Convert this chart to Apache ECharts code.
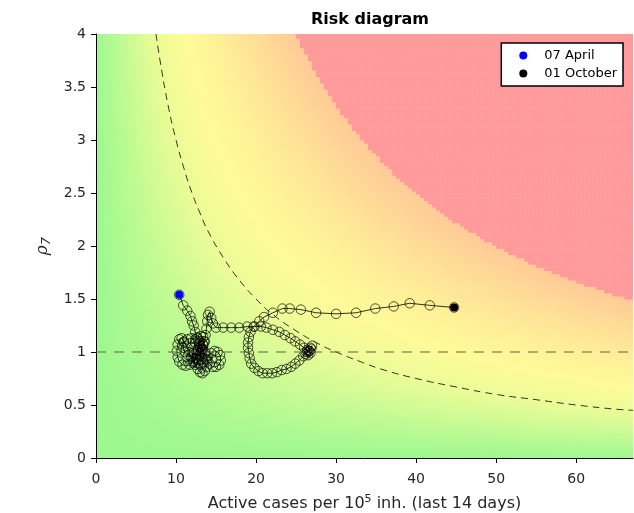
<!DOCTYPE html>
<html>
<head>
<meta charset="utf-8">
<script src="https://cdn.jsdelivr.net/npm/echarts@6/dist/echarts.min.js"></script>
<style>html,body{margin:0;padding:0;background:#fff}#c{width:634px;height:513px}</style>
</head>
<body>
<div id="c"></div>
<script>
// ---- data ----
const xTicks = [0, 10, 20, 30, 40, 50, 60];
const yTicks = [0, 0.5, 1, 1.5, 2, 2.5, 3, 3.5, 4];
const trajectory = [
  [10.4,1.54],[10.9,1.44],[11.4,1.39],[11.8,1.34],[12.0,1.29],[12.2,1.25],[12.4,1.19],[12.6,1.14],
  [12.8,1.10],[13.0,1.05],[13.1,1.00],[13.0,0.96],[12.8,0.92],[12.5,0.90],[12.2,0.91],[11.9,0.95],
  [11.6,1.00],[11.3,1.05],[11.0,1.10],[10.7,1.13],[10.4,1.12],[10.2,1.07],[10.1,1.01],[10.2,0.95],
  [10.4,0.91],[10.8,0.88],[11.2,0.87],[11.7,0.88],[12.1,0.90],[12.5,0.94],[12.9,0.98],[13.2,1.02],
  [13.4,1.06],[13.5,1.10],[13.4,1.14],[13.1,1.15],[12.7,1.13],[12.4,1.09],[12.2,1.04],[12.1,0.99],
  [12.2,0.94],[12.4,0.88],[12.7,0.84],[13.0,0.81],[13.3,0.80],[13.6,0.82],[13.8,0.86],[13.9,0.91],
  [13.8,0.96],[13.6,1.00],[13.3,1.03],[13.0,1.04],[12.6,1.02],[12.3,0.98],[11.9,0.96],[11.5,0.97],
  [11.1,1.00],[10.9,1.04],[11.0,1.09],[11.4,1.12],[11.9,1.13],[12.4,1.12],[12.9,1.08],[13.3,1.03],
  [13.6,0.98],[13.9,0.93],[14.2,0.89],[14.6,0.86],[15.0,0.86],[15.4,0.88],[15.6,0.92],[15.5,0.97],
  [15.2,1.00],[14.8,1.01],[14.4,0.99],[14.0,0.96],[13.7,0.93],[13.4,0.90],[13.1,0.88],[12.8,0.89],
  [12.6,0.93],[12.6,0.98],[12.8,1.02],[13.1,1.05],[13.4,1.07],[13.6,1.10],[13.7,1.16],[13.8,1.22],
  [13.9,1.29],[14.0,1.35],[14.2,1.38],[14.4,1.32],[14.6,1.27],
  [15.0,1.23],[15.9,1.23],[16.9,1.23],[17.9,1.23],[18.9,1.24],[19.8,1.24],[20.6,1.24],[21.3,1.23],
  [22.1,1.21],[22.9,1.19],[23.6,1.16],[24.3,1.13],[24.9,1.10],[25.5,1.07],[26.0,1.04],
  [26.4,1.02],[26.7,1.01],[26.9,1.03],[27.0,1.06],[26.8,1.04],[26.5,1.00],[26.2,0.98],[26.5,0.97],
  [26.8,0.99],[26.6,1.01],[26.3,1.00],
  [25.9,0.96],[25.4,0.92],[24.9,0.89],[24.4,0.86],[23.8,0.84],[23.2,0.83],[22.6,0.81],[22.0,0.80],
  [21.4,0.80],[20.8,0.80],[20.3,0.82],[19.8,0.85],[19.4,0.89],[19.2,0.94],[19.1,0.99],[19.0,1.04],
  [19.0,1.09],[19.1,1.14],[19.3,1.19],[19.7,1.24],
  [20.4,1.29],[21.0,1.33],[22.1,1.37],[23.3,1.41],[24.2,1.41],[25.6,1.40],[27.5,1.37],[30.0,1.36],
  [32.5,1.37],[34.9,1.41],[37.2,1.43],[39.2,1.46],[41.7,1.44],[44.75,1.42]
];
const startPoint = [[10.4, 1.54]];
const endPoint = [[44.75, 1.42]];
// dashed reference curve
const riskCurve = [
  [7.5,4.0],[8,3.75],[9,3.33],[10,3.0],[11,2.73],[12,2.5],[13,2.31],[14,2.14],[16,1.88],
  [18,1.67],[20,1.5],[22,1.36],[25,1.2],[28,1.07],[30,1.0],[33,0.91],[36,0.83],[40,0.75],
  [45,0.67],[50,0.6],[55,0.55],[60,0.5],[65,0.46],[67.1,0.45]
];
// background risk colour scale (by cases x rho)
const riskStops  = [0, 10, 20, 30, 45, 60, 75, 90, 100];
const riskColors = ['#9cf890','#b8fa92','#d4fb94','#ecfc96','#fffa98','#fff096','#ffe296','#ffd396','#ffca96'];
const riskHigh = '#ff9a9a';

// ---- background grid cells ----
const XMAX = 67.1, YMAX = 4;
const DX = 0.5, DY = 0.03;
const cells = [];
for (let i = 0; i * DX < XMAX; i++) {
  for (let j = 0; j * DY < YMAX - 1e-9; j++) {
    cells.push([i * DX, j * DY]);
  }
}
function hexToRgb(h){return [parseInt(h.substr(1,2),16),parseInt(h.substr(3,2),16),parseInt(h.substr(5,2),16)];}
const riskRgb = riskColors.map(hexToRgb);
function riskColor(p){
  if (p >= riskStops[riskStops.length-1]) return riskHigh;
  for (let k = 0; k < riskStops.length-1; k++){
    if (p <= riskStops[k+1]){
      const t = (p - riskStops[k])/(riskStops[k+1]-riskStops[k]);
      const a = riskRgb[k], b = riskRgb[k+1];
      return 'rgb(' + [0,1,2].map(c => Math.round(a[c] + (b[c]-a[c])*t)).join(',') + ')';
    }
  }
  return riskHigh;
}

const chart = echarts.init(document.getElementById('c'), null, {renderer:'canvas'});
const txt = '#262626';
chart.setOption({
  animation: false,
  backgroundColor: '#ffffff',
  textStyle: {fontFamily: 'DejaVu Sans'},
  title: {
    text: 'Risk diagram', left: 365, top: 7, textAlign: 'center',
    textStyle: {fontSize: 16, fontWeight: 'bold', color: '#000', fontFamily: 'DejaVu Sans'}
  },
  legend: {
    data: ['07 April', '01 October'],
    orient: 'vertical', right: 11, top: 43,
    backgroundColor: '#fff', borderColor: '#000', borderWidth: 1.5, borderRadius: 0,
    padding: [6, 6, 6, 18], itemGap: 5, itemWidth: 8, itemHeight: 8, icon: 'circle',
    itemStyle: {opacity: 1},
    textStyle: {fontSize: 13, color: '#000', fontFamily: 'DejaVu Sans', padding: [0,0,0,12]}
  },
  grid: {left: 96, right: 1, top: 34, bottom: 55, containLabel: false, outerBoundsMode: 'none'},
  xAxis: {
    type: 'value', min: 0, max: XMAX, interval: 10,
    name: 'Active cases per 10{sup|5} inh. (last 14 days)', nameLocation: 'middle', nameGap: 36,
    nameTextStyle: {fontSize: 16, color: txt, rich: {
      sup: {fontSize: 11, color: txt, verticalAlign: 'top', padding: [0,0,9,0]}
    }},
    axisLine: {lineStyle: {color: '#000', width: 1}},
    axisTick: {show: true, length: 5, inside: false, lineStyle: {color: '#000'}},
    axisLabel: {fontSize: 14, color: txt, margin: 14, showMaxLabel: false,
      formatter: v => xTicks.indexOf(v) >= 0 ? String(v) : ''},
    splitLine: {show: false}
  },
  yAxis: {
    type: 'value', min: 0, max: YMAX, interval: 0.5,
    name: '{a|\u03C1}{b|7}', nameLocation: 'middle', nameGap: 42,
    nameTextStyle: {rich: {
      a: {fontSize: 17, fontStyle: 'italic', color: txt, fontFamily: 'DejaVu Serif'},
      b: {fontSize: 13, fontStyle: 'italic', color: txt, fontFamily: 'DejaVu Sans', padding: [7,0,0,0]}
    }},
    axisLine: {lineStyle: {color: '#000', width: 1}},
    axisTick: {show: true, length: 5, inside: false, lineStyle: {color: '#000'}},
    axisLabel: {fontSize: 14, color: txt, margin: 10,
      formatter: v => yTicks.indexOf(v) >= 0 ? String(v) : ''},
    splitLine: {show: false}
  },
  series: [
    {
      type: 'custom', name: 'bg', silent: true, clip: true, progressive: 0, z: 0,
      data: cells,
      renderItem: function(params, api){
        const x0 = api.value(0), y0 = api.value(1);
        const p1 = api.coord([x0, y0 + DY]);
        const p2 = api.coord([x0 + DX, y0]);
        const prod = (x0 + DX/2) * (y0 + DY/2);
        return {
          type: 'rect',
          shape: {x: p1[0], y: p1[1], width: p2[0]-p1[0] + 0.6, height: p2[1]-p1[1] + 0.6},
          style: {fill: riskColor(prod)},
          silent: true
        };
      }
    },
    {
      type: 'line', name: 'curve', data: riskCurve, smooth: true, symbol: 'none', silent: true, z: 2,
      lineStyle: {color: '#000', width: 0.8, type: [7, 5]},
      markLine: {
        silent: true, symbol: 'none', label: {show: false},
        lineStyle: {color: 'rgba(110,110,80,0.55)', width: 2, type: [10, 8]},
        data: [{yAxis: 1}]
      }
    },
    {
      type: 'line', name: 'trajectory', data: trajectory, z: 3, silent: true,
      symbol: 'circle', symbolSize: 9.5, showSymbol: true,
      lineStyle: {color: '#000', width: 0.8},
      itemStyle: {color: 'rgba(0,0,0,0)', borderColor: 'rgba(0,0,0,0.85)', borderWidth: 0.8},
      emphasis: {disabled: true}
    },
    {
      type: 'scatter', name: '07 April', data: startPoint, z: 4, symbolSize: 8,
      itemStyle: {color: '#0000ff', opacity: 1}
    },
    {
      type: 'scatter', name: '01 October', data: endPoint, z: 4, symbolSize: 8,
      itemStyle: {color: '#000', opacity: 1}
    }
  ]
});
</script>
</body>
</html>
